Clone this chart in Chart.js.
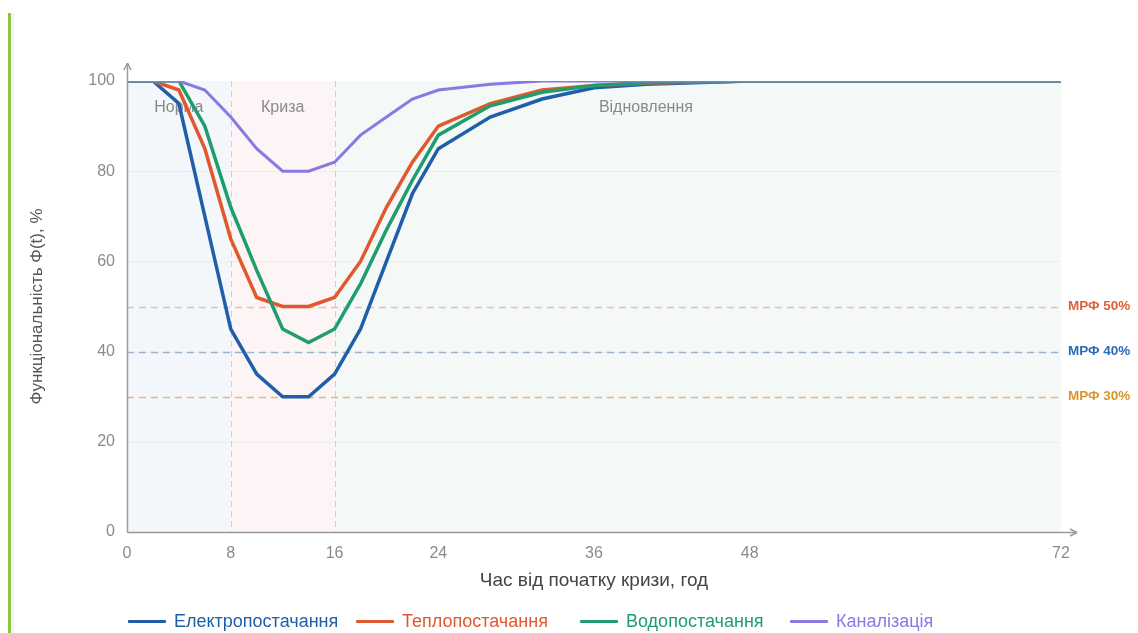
<!DOCTYPE html>
<html lang="uk">
<head>
<meta charset="utf-8">
<title>Функціональність систем</title>
<script src="https://cdn.jsdelivr.net/npm/chart.js@4"></script>
<style>
  html, body { margin: 0; padding: 0; background: #fff; }
  body { width: 1138px; height: 633px; position: relative; overflow: hidden;
         font-family: "Liberation Sans", Arial, sans-serif; }
  .side-bar { position: absolute; left: 8px; top: 13px; width: 3px; height: 620px; background: #8cc63f; }
  .side-line { position: absolute; left: 12px; top: 13px; width: 2px; height: 620px; background: #f0f0f0; }
  #wrap { position: absolute; left: 0; top: 0; width: 1138px; height: 633px; }
  .legend-item { position: absolute; top: 611px; height: 20px; display: flex; align-items: center; font-size: 18px; white-space: nowrap; }
  .legend-item span.sw { display: inline-block; width: 38px; height: 3px; margin-right: 8px; border-radius: 1px; }
</style>
</head>
<body>
<div class="side-bar"></div>
<div class="side-line"></div>
<div id="wrap"><canvas id="chart" width="1138" height="633"></canvas></div>
<div id="legend"></div>
<script>
/*---------- Data ----------------*/
const hours = [0, 2, 4, 6, 8, 10, 12, 14, 16, 18, 20, 22, 24, 28, 32, 36, 40, 48, 60, 72];
const electric = [100, 100, 95, 70, 45, 35, 30, 30, 35, 45, 60, 75, 85, 92, 96, 98.5, 99.3, 100, 100, 100];
const heating = [100, 100, 98, 85, 65, 52, 50, 50, 52, 60, 72, 82, 90, 95, 98, 99, 99.5, 100, 100, 100];
const water = [100, 100, 100, 90, 72, 58, 45, 42, 45, 55, 67, 78, 88, 94.5, 97.5, 99, 99.6, 100, 100, 100];
const sewage = [100, 100, 100, 98, 92, 85, 80, 80, 82, 88, 92, 96, 98, 99.3, 100, 100, 100, 100, 100, 100];

const xTicks = [0, 8, 16, 24, 36, 48, 72];
const seriesNames = ["Електропостачання", "Теплопостачання", "Водопостачання", "Каналізація"];
const seriesColors = ["#1f5ea8", "#e2582e", "#1f9d6c", "#8a79e2"];
// lower value = drawn on top
const seriesOrder = [3, 2, 1, 0];

// phases: start hour, end hour, label, label hour
const phaseStart = [0, 8, 16];
const phaseEnd = [8, 16, 72];
const phaseNames = ["Норма", "Криза", "Відновлення"];
const phaseLabelAt = [4, 12, 40];
const phaseFill = ["#f3f7fb", "#fdf5f5", "#f4f8f7"];

// minimum required functionality lines
const mrfValues = [50, 40, 30];
const mrfLabels = ["МРФ 50%", "МРФ 40%", "МРФ 30%"];
const mrfLineColors = ["rgba(228,120,90,0.45)", "rgba(60,110,175,0.45)", "rgba(214,150,60,0.65)"];
const mrfTextColors = ["#e0603a", "#2a6cb3", "#d8952a"];

const fontFamily = '"Liberation Sans", Arial, sans-serif';

/* ------------ Background bands, reference lines, labels -------------*/
const phasePlugin = {
  id: "phases",
  beforeDatasetsDraw(chart) {
    const ctx = chart.ctx;
    const x = chart.scales.x;
    const y = chart.scales.y;
    const top = y.getPixelForValue(100);
    const bottom = y.getPixelForValue(0);
    ctx.save();
    for (let i = 0; i < phaseStart.length; i++) {
      const x1 = x.getPixelForValue(phaseStart[i]);
      const x2 = x.getPixelForValue(phaseEnd[i]);
      ctx.fillStyle = phaseFill[i];
      ctx.fillRect(x1, top, x2 - x1, bottom - top);
    }
    // grid lines
    ctx.strokeStyle = "#ececec";
    ctx.lineWidth = 1;
    [20, 40, 60, 80].forEach(v => {
      const py = Math.round(y.getPixelForValue(v)) + 0.5;
      ctx.beginPath();
      ctx.moveTo(x.left, py);
      ctx.lineTo(x.right, py);
      ctx.stroke();
    });
    // phase borders
    ctx.strokeStyle = "#cfcfcf";
    ctx.setLineDash([6, 4]);
    [8, 16].forEach(h => {
      const px = Math.round(x.getPixelForValue(h)) + 0.5;
      ctx.beginPath();
      ctx.moveTo(px, top);
      ctx.lineTo(px, bottom);
      ctx.stroke();
    });
    // MRF lines
    ctx.lineWidth = 1.5;
    ctx.setLineDash([7, 5]);
    for (let i = 0; i < mrfValues.length; i++) {
      const py = Math.round(y.getPixelForValue(mrfValues[i])) + 0.5;
      ctx.strokeStyle = mrfLineColors[i];
      ctx.beginPath();
      ctx.moveTo(x.left, py);
      ctx.lineTo(x.right, py);
      ctx.stroke();
    }
    ctx.setLineDash([]);
    // phase labels
    ctx.fillStyle = "#8a8a8a";
    ctx.font = "16px " + fontFamily;
    ctx.textAlign = "center";
    ctx.textBaseline = "middle";
    for (let i = 0; i < phaseNames.length; i++) {
      ctx.fillText(phaseNames[i], x.getPixelForValue(phaseLabelAt[i]), y.getPixelForValue(94));
    }
    // MRF labels
    ctx.font = "bold 13.5px " + fontFamily;
    ctx.textAlign = "left";
    for (let i = 0; i < mrfValues.length; i++) {
      ctx.fillStyle = mrfTextColors[i];
      ctx.fillText(mrfLabels[i], x.right + 7, y.getPixelForValue(mrfValues[i]));
    }
    ctx.restore();
  },
  afterDatasetsDraw(chart) {
    // axes with arrows
    const ctx = chart.ctx;
    const x = chart.scales.x;
    const y = chart.scales.y;
    const ox = Math.round(x.left) + 0.5;
    const oy = Math.round(y.bottom) + 0.5;
    ctx.save();
    ctx.strokeStyle = "#9a9a9a";
    ctx.lineWidth = 1.5;
    ctx.beginPath();
    ctx.moveTo(ox, oy);
    ctx.lineTo(ox, y.top - 16);
    ctx.moveTo(ox, oy);
    ctx.lineTo(x.right + 14, oy);
    ctx.stroke();
    ctx.beginPath();
    ctx.moveTo(ox, y.top - 18);
    ctx.lineTo(ox - 3.5, y.top - 11);
    ctx.moveTo(ox, y.top - 18);
    ctx.lineTo(ox + 3.5, y.top - 11);
    ctx.moveTo(x.right + 16, oy);
    ctx.lineTo(x.right + 9, oy - 3.5);
    ctx.moveTo(x.right + 16, oy);
    ctx.lineTo(x.right + 9, oy + 3.5);
    ctx.stroke();
    ctx.restore();
  },
};

/*-----------Datasets---------------*/
const seriesValues = [electric, heating, water, sewage];
const datasets = seriesValues.map((vals, i) => ({
  label: seriesNames[i],
  data: hours.map((h, j) => ({ x: h, y: vals[j] })),
  borderColor: seriesColors[i],
  backgroundColor: seriesColors[i],
  borderWidth: i === 3 ? 3 : 3.5,
  pointRadius: 0,
  tension: 0,
  fill: false,
  order: seriesOrder[i],
}));

const chart = new Chart(document.getElementById("chart"), {
  type: "line",
  data: { datasets: datasets },
  options: {
    responsive: false,
    animation: false,
    layout: { padding: { left: 0, right: 77, top: 81, bottom: 39 } },
    plugins: {
      legend: { display: false },
      tooltip: { enabled: false },
    },
    scales: {
      x: {
        type: "linear",
        min: 0,
        max: 72,
        afterBuildTicks(scale) {
          scale.ticks = xTicks.map(v => ({ value: v }));
        },
        afterFit(scale) { scale.height = 62; },
        grid: { display: false, drawTicks: false },
        border: { display: false },
        ticks: {
          color: "#8a8a8a",
          padding: 12,
          font: { size: 16, family: fontFamily },
          maxRotation: 0,
        },
        title: {
          display: true,
          text: "Час від початку кризи, год",
          color: "#444",
          font: { size: 19, family: fontFamily },
          padding: { top: 0, bottom: 2 },
        },
      },
      y: {
        min: 0,
        max: 100,
        afterFit(scale) { scale.width = 127; },
        grid: { display: false, drawTicks: false },
        border: { display: false },
        ticks: {
          stepSize: 20,
          color: "#8a8a8a",
          padding: 12,
          font: { size: 16, family: fontFamily },
        },
        title: {
          display: true,
          text: "Функціональність Φ(t), %",
          color: "#555",
          font: { size: 17, family: fontFamily },
          padding: { top: 27, bottom: 0 },
        },
      },
    },
  },
  plugins: [phasePlugin],
});

/* ------------ Legend -------------*/
const legendLeft = [128, 356, 580, 790];
const legend = document.getElementById("legend");
seriesNames.forEach((name, i) => {
  const item = document.createElement("div");
  item.className = "legend-item";
  item.style.left = legendLeft[i] + "px";
  item.style.color = seriesColors[i];
  item.innerHTML = `<span class="sw" style="background:${seriesColors[i]}"></span>${name}`;
  legend.appendChild(item);
});
</script>
</body>
</html>
